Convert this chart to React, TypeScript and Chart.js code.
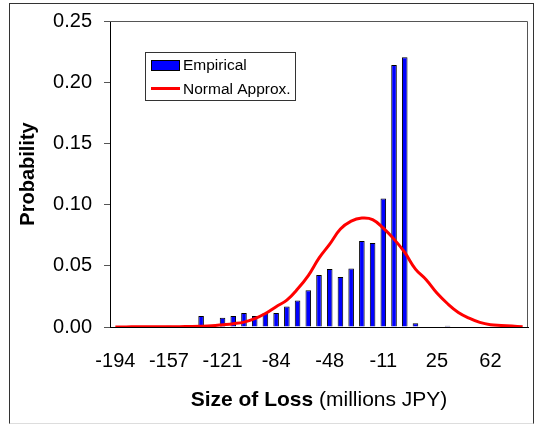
import { useEffect, useRef } from 'react';
import { Chart, registerables } from 'chart.js';

Chart.register(...registerables);

// Category midpoints of loss size (millions JPY)
const categories = [
  -194, -187, -179, -172, -165, -157, -150, -143, -135, -128,
  -121, -114, -106, -99, -92, -84, -77, -70, -62, -55,
  -48, -40, -33, -26, -18, -11, -4, 3, 11, 18,
  25, 33, 40, 47, 55, 62, 69, 77, 84,
];

const empirical = [
  0, 0, 0, 0, 0.0005, 0.001, 0, 0.0005, 0.009, 0,
  0.0076, 0.009, 0.0114, 0.009, 0.0114, 0.0114, 0.0168, 0.0217, 0.030, 0.0424,
  0.0473, 0.0408, 0.0478, 0.0702, 0.0686, 0.105, 0.214, 0.2203, 0.003, 0,
  0, 0.001, 0, 0, 0, 0, 0, 0, 0,
];

const normalApprox = [
  0.0001, 0.0001, 0.0002, 0.0002, 0.0002, 0.0003, 0.0003, 0.0004, 0.0006, 0.001,
  0.0018, 0.0027, 0.004, 0.0068, 0.011, 0.0166, 0.022, 0.031, 0.042, 0.0563,
  0.0677, 0.080, 0.0865, 0.089, 0.0878, 0.0808, 0.0718, 0.0609, 0.0473, 0.0386,
  0.0277, 0.019, 0.0119, 0.0073, 0.0038, 0.0019, 0.0013, 0.0008, 0.0002,
];

const yTicks = [0, 0.05, 0.1, 0.15, 0.2, 0.25];
const xLabelEvery = 5;

const FONT = "'Liberation Sans', Arial, Helvetica, sans-serif";

export default function App() {
  const ref = useRef<HTMLCanvasElement>(null);

  useEffect(() => {
    if (!ref.current) return;
    document.body.style.overflow = 'hidden';

    const plotFrame = {
      id: 'plotFrame',
      beforeDatasetsDraw(chart: any) {
        const { ctx, chartArea } = chart;
        const { left, top, right, bottom } = chartArea;
        ctx.save();
        ctx.strokeStyle = '#555555';
        ctx.lineWidth = 1;
        ctx.beginPath();
        ctx.moveTo(left, Math.round(top) + 0.5);
        ctx.lineTo(Math.round(right) - 0.5, Math.round(top) + 0.5);
        ctx.lineTo(Math.round(right) - 0.5, bottom);
        ctx.stroke();
        ctx.restore();
      },
    };

    const legendBox = {
      id: 'legendBox',
      afterDraw(chart: any) {
        const { ctx } = chart;
        ctx.save();
        ctx.fillStyle = '#ffffff';
        ctx.fillRect(146, 53, 149, 47);
        ctx.strokeStyle = '#333333';
        ctx.lineWidth = 1;
        ctx.strokeRect(145.5, 52.5, 150, 48);
        // Empirical swatch
        ctx.fillStyle = '#0000FF';
        ctx.fillRect(152, 61, 27, 9);
        ctx.strokeStyle = '#000000';
        ctx.strokeRect(151.5, 60.5, 28, 10);
        // Normal line swatch
        ctx.strokeStyle = '#FF0000';
        ctx.lineWidth = 3;
        ctx.beginPath();
        ctx.moveTo(151, 88.5);
        ctx.lineTo(180, 88.5);
        ctx.stroke();
        ctx.fillStyle = '#000000';
        ctx.font = `15.5px ${FONT}`;
        ctx.textBaseline = 'middle';
        ctx.textAlign = 'left';
        ctx.fillText('Empirical', 183, 66);
        ctx.fillText('Normal Approx.', 183, 90);
        ctx.restore();
      },
    };

    const xTitle = {
      id: 'xTitle',
      afterDraw(chart: any) {
        const { ctx, chartArea } = chart;
        const center = (chartArea.left + chartArea.right) / 2;
        const part1 = 'Size of Loss';
        const part2 = ' (millions JPY)';
        ctx.save();
        ctx.fillStyle = '#000000';
        ctx.textBaseline = 'alphabetic';
        ctx.textAlign = 'left';
        ctx.font = `bold 21px ${FONT}`;
        const w1 = ctx.measureText(part1).width;
        ctx.font = `21px ${FONT}`;
        const w2 = ctx.measureText(part2).width;
        const x0 = center - (w1 + w2) / 2;
        ctx.font = `bold 21px ${FONT}`;
        ctx.fillText(part1, x0, 406);
        ctx.font = `21px ${FONT}`;
        ctx.fillText(part2, x0 + w1, 406);
        ctx.restore();
      },
    };

    const chart = new Chart(ref.current, {
      type: 'bar',
      data: {
        labels: categories.map(String),
        datasets: [
          {
            type: 'bar',
            label: 'Empirical',
            data: empirical,
            backgroundColor: '#0000FF',
            borderColor: '#000000',
            borderWidth: 1,
            barPercentage: 0.52,
            categoryPercentage: 1.0,
            order: 1,
          },
          {
            type: 'line',
            label: 'Normal Approx.',
            data: normalApprox,
            borderColor: '#FF0000',
            borderWidth: 3,
            pointRadius: 0,
            tension: 0.4,
            fill: false,
            order: 0,
          },
        ],
      } as any,
      options: {
        animation: false,
        responsive: false,
        devicePixelRatio: 1,
        layout: { padding: { left: 0, top: 21, right: 6, bottom: 0 } },
        plugins: {
          legend: { display: false },
          tooltip: { enabled: false },
        },
        scales: {
          x: {
            offset: true,
            grid: { display: false, drawTicks: false },
            border: { display: true, color: '#000000', width: 1 },
            ticks: {
              autoSkip: false,
              maxRotation: 0,
              minRotation: 0,
              padding: 22,
              color: '#000000',
              font: { family: FONT, size: 20 },
              callback: (_v: any, i: number) =>
                i % xLabelEvery === 0 ? String(categories[i]) : '',
            },
            afterFit: (scale: any) => {
              scale.height = 98;
              scale.paddingLeft = 0;
              scale.paddingRight = 0;
            },
          },
          y: {
            min: 0,
            max: 0.25,
            afterBuildTicks: (scale: any) => {
              scale.ticks = yTicks.map((v) => ({ value: v }));
            },
            grid: {
              drawOnChartArea: false,
              drawTicks: true,
              tickLength: 6,
              color: '#555555',
            },
            border: { display: true, color: '#000000', width: 1 },
            ticks: {
              padding: 12,
              color: '#000000',
              font: { family: FONT, size: 20 },
              callback: (v: any) => Number(v).toFixed(2),
            },
            title: {
              display: true,
              text: 'Probability',
              color: '#000000',
              font: { family: FONT, size: 20, weight: 'bold' },
              padding: { top: 16, bottom: 0 },
            },
            afterFit: (scale: any) => {
              scale.width = 110;
              scale.paddingTop = 0;
              scale.paddingBottom = 0;
            },
          },
        },
      } as any,
      plugins: [plotFrame, legendBox, xTitle],
    });

    return () => chart.destroy();
  }, []);

  return (
    <>
      <div
        style={{
          position: 'fixed',
          left: 9,
          top: 3,
          width: 525,
          height: 421,
          boxSizing: 'border-box',
          borderLeft: '1px solid #333',
          borderTop: '1px solid #333',
          borderRight: '1px solid #333',
          borderBottom: '1px solid #ddd',
        }}
      />
      <div style={{ position: 'fixed', left: 0, top: 0, width: 534, height: 425 }}>
        <canvas ref={ref} width={534} height={425} style={{ display: 'block' }} />
      </div>
    </>
  );
}
